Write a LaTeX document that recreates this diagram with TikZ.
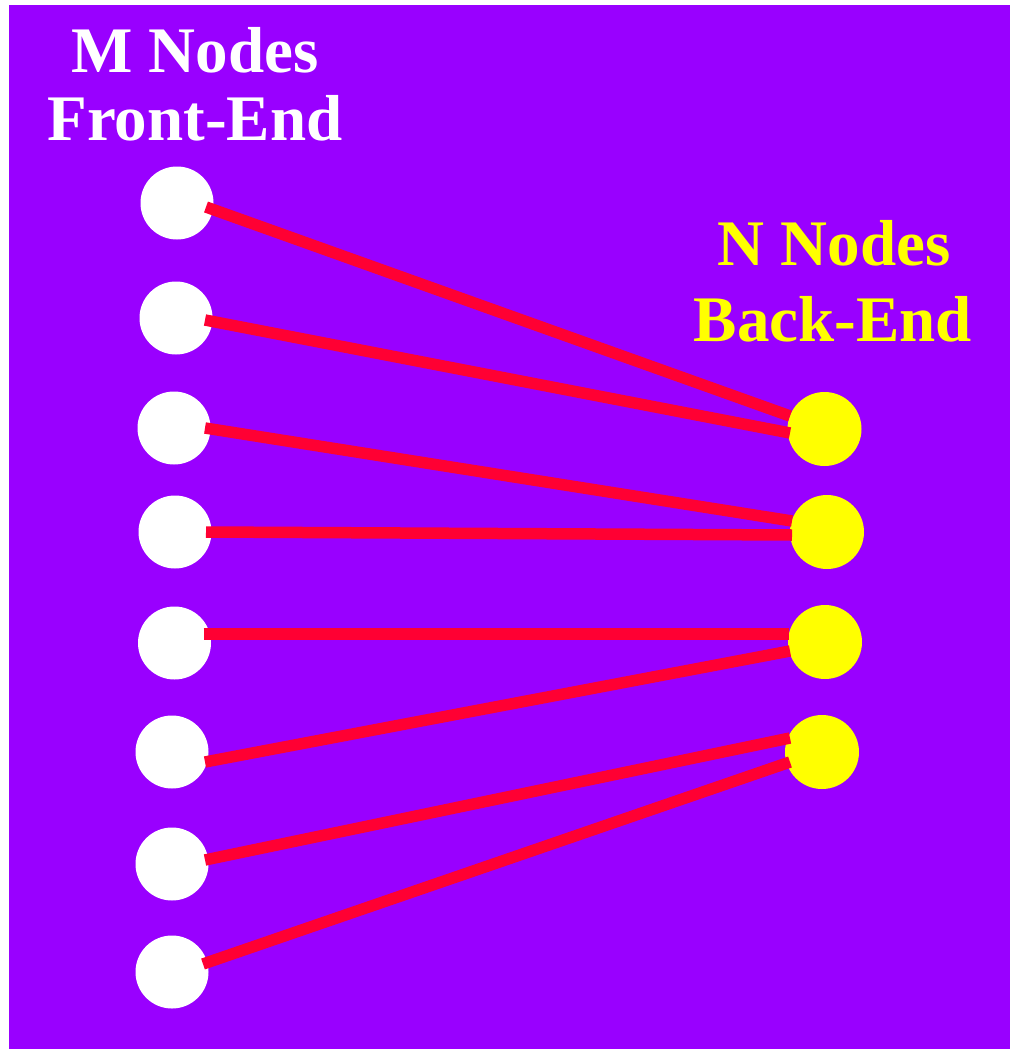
\documentclass[tikz,border=0pt]{standalone}
\usepackage{fontspec}
\setmainfont{Liberation Serif}
\usetikzlibrary{calc}
\definecolor{bgpurple}{HTML}{9900FF}
\definecolor{linkred}{HTML}{FF0033}
\definecolor{beyellow}{HTML}{FFFF00}
\tikzset{
  fenode/.style={circle, fill=white, inner sep=0pt, minimum size=73pt},
  benode/.style={circle, fill=beyellow, inner sep=0pt, minimum size=74pt},
  link/.style={draw=linkred, line width=11.5pt},
  title/.style={anchor=base, inner sep=0pt, font=\fontsize{65}{67}\selectfont\bfseries}
}
\begin{document}
\begin{tikzpicture}[x=1pt, y=-1pt]
  % canvas
  \fill[white] (0,0) rectangle (1010,1049);
  \fill[bgpurple] (9,5) rectangle (1010,1049);
  \useasboundingbox (0,0) rectangle (1010,1049);

  % headings
  \node[title, text=white] (ml1) at (195,73) {M Nodes};
  \node[title, text=white] (ml2) at (195,140) {Front-End};
  \node[title, text=beyellow] (nl1) at (834,265) {N Nodes};
  \node[title, text=beyellow] (nl2) at (833,341) {Back-End};

  % front-end nodes
  \node[fenode] (w1) at (177,203) {};
  \node[fenode] (w2) at (176,318) {};
  \node[fenode] (w3) at (174,428) {};
  \node[fenode] (w4) at (175,532) {};
  \node[fenode] (w5) at (174.5,643) {};
  \node[fenode] (w6) at (172,752) {};
  \node[fenode] (w7) at (172,864) {};
  \node[fenode] (w8) at (172,972) {};

  % back-end nodes
  \node[benode] (b1) at (824.5,429) {};
  \node[benode] (b2) at (827,532) {};
  \node[benode] (b3) at (825,642) {};
  \node[benode] (b4) at (822,752) {};

  % connections
  \draw[link] ($(w1)+(29,4)$)  -- ($(b1)+(-34.5,-13)$);
  \draw[link] ($(w2)+(29,2)$)  -- ($(b1)+(-34.5,4)$);
  \draw[link] ($(w3)+(31,0)$)  -- ($(b2)+(-35,-11)$);
  \draw[link] ($(w4)+(31,0)$)  -- ($(b2)+(-35,3)$);
  \draw[link] ($(w5)+(29,-9)$) -- ($(b3)+(-36,-8)$);
  \draw[link] ($(w6)+(33,10)$) -- ($(b3)+(-35,9)$);
  \draw[link] ($(w7)+(33,-4)$) -- ($(b4)+(-32,-14)$);
  \draw[link] ($(w8)+(31,-8)$) -- ($(b4)+(-32,10)$);
\end{tikzpicture}
\end{document}
